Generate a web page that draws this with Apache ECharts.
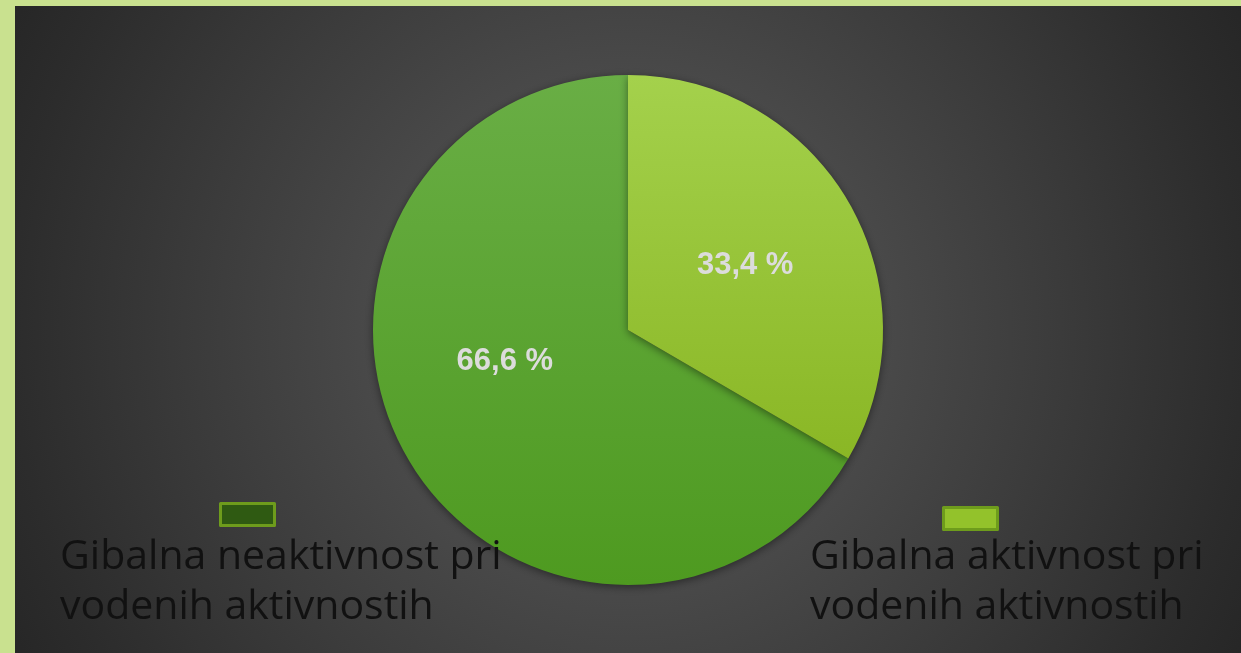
<!DOCTYPE html>
<html>
<head>
<meta charset="utf-8">
<script src="https://cdn.jsdelivr.net/npm/echarts@6/dist/echarts.min.js"></script>
<style>
html,body{margin:0;padding:0;background:#c9e18f;}
#chart{width:1241px;height:653px;}
</style>
</head>
<body>
<div id="chart"></div>
<script>
const categories = ['Gibalna neaktivnost pri vodenih aktivnostih', 'Gibalna aktivnost pri vodenih aktivnostih'];
const legendLines = [['Gibalna neaktivnost pri', 'vodenih aktivnostih'], ['Gibalna aktivnost pri', 'vodenih aktivnostih']];
const values = [66.6, 33.4];

const chart = echarts.init(document.getElementById('chart'));
const textFont = '"Open Sans"';
const labelDx = [-10, 4];
const labelDy = [-34, 0];

const option = {
  animation: false,
  backgroundColor: '#c9e18f',
  graphic: [
    { type: 'rect', z: -10, shape: { x: 15, y: 6, width: 1226, height: 647 },
      style: { fill: { type: 'radial', global: true, x: 628, y: 330, r: 700, colorStops: [
        { offset: 0, color: '#505050' }, { offset: 0.35, color: '#4a4a4a' }, { offset: 0.6, color: '#3c3c3c' },
        { offset: 0.88, color: '#2c2c2c' }, { offset: 1, color: '#262626' }] } } },
    { type: 'text', z: 100, left: 60, top: 532, style: { text: legendLines[0].join('\n'), font: '41px ' + textFont, lineHeight: 50, fill: '#111111' } },
    { type: 'text', z: 100, left: 810, top: 532, style: { text: legendLines[1].join('\n'), font: '41px ' + textFont, lineHeight: 50, fill: '#111111' } }
  ],
  legend: [
    { left: 214, top: 497, icon: 'rect', itemWidth: 54, itemHeight: 22, formatter: () => '', itemGap: 0,
      data: [{ name: categories[0], itemStyle: { color: '#2f5a12', borderColor: '#6e9c1c', borderWidth: 3 } }] },
    { left: 937, top: 501, icon: 'rect', itemWidth: 54, itemHeight: 22, formatter: () => '', itemGap: 0,
      data: [{ name: categories[1], itemStyle: { color: '#93c22b', borderColor: '#6e9c1c', borderWidth: 3 } }] }
  ],
  series: [{
    type: 'pie',
    center: [628, 330],
    radius: 255,
    startAngle: 90,
    clockwise: false,
    avoidLabelOverlap: false,
    itemStyle: { shadowBlur: 8, shadowColor: 'rgba(0,0,0,0.45)', shadowOffsetY: 2 },
    label: {
      position: 'inside', color: '#dcdcdc', fontFamily: 'Liberation Sans', fontWeight: 'bold', fontSize: 31,
      formatter: p => String(p.value).replace('.', ',') + ' %'
    },
    labelLine: { show: false },
    labelLayout: p => ({ dx: labelDx[p.dataIndex], dy: labelDy[p.dataIndex] }),
    data: [
      { name: categories[0], value: values[0], itemStyle: { color: { type: 'linear', x: 0, y: 0, x2: 0, y2: 1, colorStops: [{ offset: 0, color: '#69ae45' }, { offset: 1, color: '#4e9a20' }] } } },
      { name: categories[1], value: values[1], itemStyle: { color: { type: 'linear', x: 0, y: 0, x2: 0, y2: 1, colorStops: [{ offset: 0, color: '#a4d14c' }, { offset: 1, color: '#8ab725' }] } } }
    ]
  }]
};
chart.setOption(option);
</script>
</body>
</html>
